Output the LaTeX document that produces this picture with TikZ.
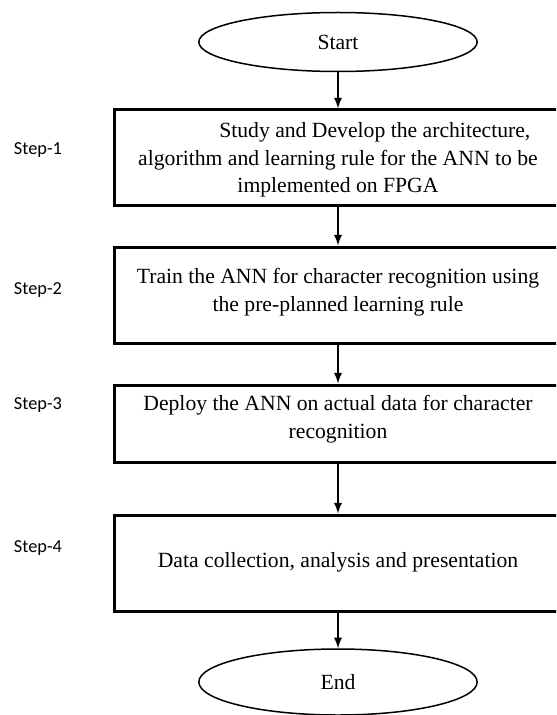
\documentclass[tikz,border=0pt]{standalone}
\usepackage{fontspec}
\setmainfont{Liberation Serif}
\newfontfamily\stepfont{Carlito}
\usepackage{tikz}
\usetikzlibrary{shapes.geometric, arrows}
\tikzstyle{term}=[draw, shape=ellipse, line width=0.9pt, inner sep=0pt, minimum width=167pt, minimum height=35.4pt, font=\fontsize{13}{16.5}\selectfont]
\tikzstyle{stepbox}=[draw, shape=rectangle, line width=1.8pt, minimum width=285pt]
\tikzstyle{steptext}=[align=center, inner sep=0pt, font=\fontsize{13}{16.5}\selectfont]
\tikzstyle{steplabel}=[inner sep=0pt, font=\stepfont\fontsize{11}{13}\selectfont]
\tikzstyle{flow}=[->, line width=1.2pt]
\tikzset{>=latex}

\begin{document}
\begin{tikzpicture}[x=0.6pt, y=-0.6pt]
\useasboundingbox (0,0) rectangle (556,715);
\clip (0,0) rectangle (556,715);
% the start and end ellipses
\node[term] (start) at (338,42) {Start};
\node[term, minimum height=39.6pt] (end) at (338,682) {End};
% the four boxes (their right side runs off the page)
\node[stepbox, minimum height=57.6pt] (B1) at (352,158) {};
\node[stepbox, minimum height=57.6pt] (B2) at (352,295) {};
\node[stepbox, minimum height=46.2pt] (B3) at (352,423.5) {};
\node[stepbox, minimum height=57.6pt] (B4) at (352,563) {};
% the texts in the boxes
\node[steptext] (T1) at (338,160) {\hspace*{3.4em}Study and Develop the architecture,\\algorithm and learning rule for the ANN to be\\implemented on FPGA};
\node[steptext] (T2) at (338,292) {Train the ANN for character recognition using\\the pre-planned learning rule};
\node[steptext] (T3) at (338,419) {Deploy the ANN on actual data for character\\recognition};
\node[steptext] (T4) at (338,562) {Data collection, analysis and presentation};
% the step labels on the left
\node[steplabel] (S1) at (38,150) {Step-1};
\node[steplabel] (S2) at (38,290) {Step-2};
\node[steplabel] (S3) at (38,405) {Step-3};
\node[steplabel] (S4) at (38,548) {Step-4};
% the arrows
\draw[flow] (start) -- (start |- B1.north);
\draw[flow] (start |- B1.south) -- (start |- B2.north);
\draw[flow] (start |- B2.south) -- (start |- B3.north);
\draw[flow] (start |- B3.south) -- (start |- B4.north);
\draw[flow] (start |- B4.south) -- (end);
\end{tikzpicture}
\end{document}
